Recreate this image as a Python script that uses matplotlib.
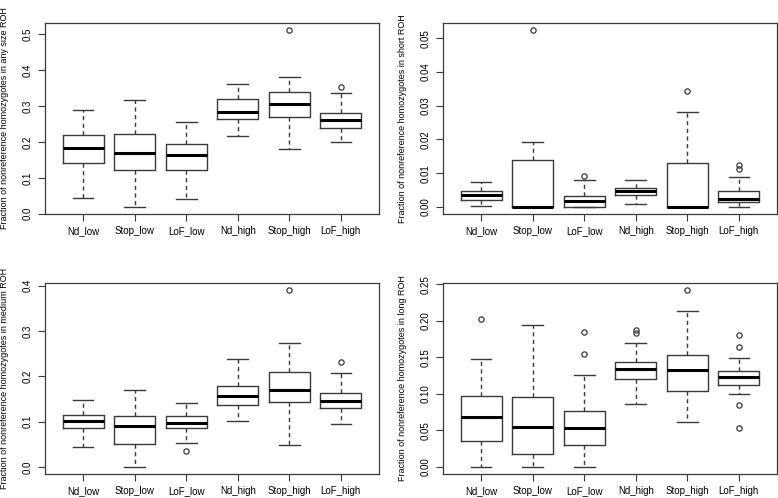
import matplotlib
matplotlib.use("Agg")
import matplotlib.pyplot as plt

plt.rcParams['font.family'] = ['Liberation Sans', 'DejaVu Sans']

groups = ['Nd_low', 'Stop_low', 'LoF_low', 'Nd_high', 'Stop_high', 'LoF_high']

# each list: whisker low, q1, median, q3, whisker high
any_stats = [
    [0.044, 0.141, 0.184, 0.220, 0.290],
    [0.019, 0.121, 0.169, 0.222, 0.318],
    [0.040, 0.123, 0.164, 0.195, 0.255],
    [0.218, 0.263, 0.283, 0.319, 0.363],
    [0.181, 0.269, 0.307, 0.339, 0.380],
    [0.199, 0.238, 0.262, 0.280, 0.336],
]
any_out = [[], [], [], [], [0.512], [0.352]]

short_stats = [
    [0.0004, 0.0021, 0.0035, 0.0046, 0.0073],
    [0.0, 0.0, 0.0, 0.0140, 0.0192],
    [0.0, 0.0, 0.0018, 0.0033, 0.0080],
    [0.0008, 0.0035, 0.0046, 0.0056, 0.0080],
    [0.0, 0.0, 0.0, 0.0131, 0.0280],
    [0.0, 0.0016, 0.0023, 0.0047, 0.0090],
]
short_out = [[], [0.0524], [0.0091], [], [0.0344], [0.0111, 0.0123]]

medium_stats = [
    [0.043, 0.086, 0.101, 0.115, 0.148],
    [0.0, 0.051, 0.090, 0.1125, 0.169],
    [0.053, 0.085, 0.096, 0.1125, 0.142],
    [0.102, 0.137, 0.157, 0.178, 0.238],
    [0.049, 0.143, 0.170, 0.210, 0.274],
    [0.095, 0.129, 0.146, 0.164, 0.207],
]
medium_out = [[], [], [0.036], [], [0.390], [0.231]]

long_stats = [
    [0.0, 0.0356, 0.0686, 0.097, 0.148],
    [0.0, 0.018, 0.054, 0.0955, 0.194],
    [0.0, 0.030, 0.053, 0.076, 0.126],
    [0.086, 0.120, 0.134, 0.144, 0.169],
    [0.062, 0.104, 0.132, 0.153, 0.213],
    [0.0996, 0.112, 0.123, 0.131, 0.1485],
]
long_out = [[0.203], [], [0.1545, 0.184], [0.183, 0.188], [0.242], [0.0535, 0.0846, 0.164, 0.180]]

panels = [
    (any_stats, any_out, 'Fraction of nonreference homozygotes in any size ROH',
     [0.0, 0.1, 0.2, 0.3, 0.4, 0.5], '%.1f', [45, 23]),
    (short_stats, short_out, 'Fraction of nonreference homozygotes in short ROH',
     [0.0, 0.01, 0.02, 0.03, 0.04, 0.05], '%.2f', [443, 23]),
    (medium_stats, medium_out, 'Fraction of nonreference homozygotes in medium ROH',
     [0.0, 0.1, 0.2, 0.3, 0.4], '%.1f', [45, 283]),
    (long_stats, long_out, 'Fraction of nonreference homozygotes in long ROH',
     [0.0, 0.05, 0.10, 0.15, 0.20, 0.25], '%.2f', [443, 283]),
]

W, H = 778, 498
fig = plt.figure(figsize=(W / 100, H / 100), dpi=100)

for stats, outs, label, ticks, fmt, (px, py) in panels:
    ax = fig.add_axes([px / W, 1 - (py + 191) / H, 334 / W, 191 / H])
    bstats = []
    for name, s, o in zip(groups, stats, outs):
        bstats.append({'label': name, 'whislo': s[0], 'q1': s[1], 'med': s[2],
                       'q3': s[3], 'whishi': s[4], 'fliers': o})
    ax.bxp(bstats, positions=range(1, 7), widths=0.8, showfliers=True,
           boxprops=dict(color='#3a3a3a', lw=1.0),
           medianprops=dict(color='black', lw=2.2, solid_capstyle='butt'),
           whiskerprops=dict(color='#3a3a3a', lw=1.0, ls=(0, (3, 2.5))),
           capprops=dict(color='#3a3a3a', lw=1.0),
           capwidths=0.4,
           flierprops=dict(marker='o', markerfacecolor='none', markeredgecolor='#3a3a3a',
                           markersize=3.8, markeredgewidth=0.9))
    # R-style limits: data range padded by 4%
    vals = [v for s in stats for v in s] + [v for o in outs for v in o]
    lo, hi = min(vals), max(vals)
    pad = (hi - lo) * 0.04
    ax.set_ylim(lo - pad, hi + pad)
    ax.set_xlim(0.26, 6.74)
    ax.set_yticks(ticks)
    ax.set_yticklabels([fmt % t for t in ticks], rotation=90, va='center')
    ax.set_xticks(range(1, 7))
    ax.set_xticklabels(groups)
    ax.tick_params(labelsize=7, length=5, width=0.8, color='#3a3a3a')
    ax.tick_params(axis='x', pad=3.5)
    ax.tick_params(axis='y', pad=4)
    for sp in ax.spines.values():
        sp.set_color('#3a3a3a')
        sp.set_linewidth(0.9)
    ax.set_ylabel(label, fontsize=6.5)
    ax.yaxis.set_label_coords(-0.108, 0.5)

fig.savefig('out.png', dpi=100)
